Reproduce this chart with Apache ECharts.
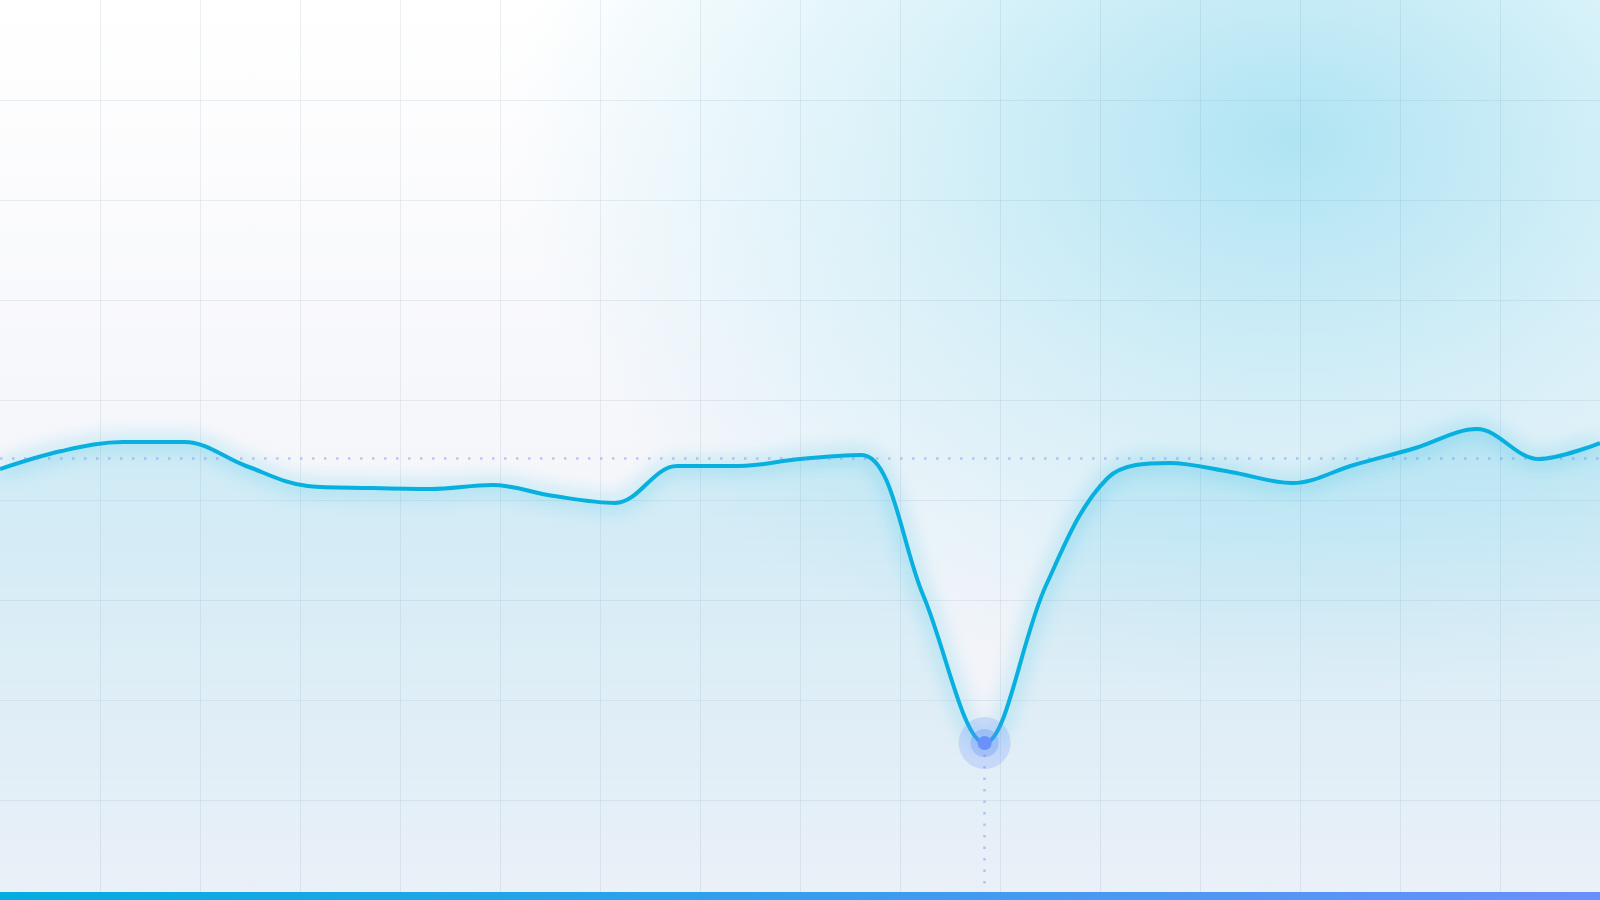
<!DOCTYPE html>
<html>
<head>
<meta charset="utf-8">
<title>trend</title>
<script src="https://cdn.jsdelivr.net/npm/echarts@6/dist/echarts.min.js"></script>
<style>
  html, body { margin: 0; padding: 0; }
  #main {
    width: 1600px;
    height: 900px;
    background:
      radial-gradient(ellipse 780px 560px at 1290px 140px,
        rgba(176, 228, 243, 1) 0%,
        rgba(176, 228, 243, 0.45) 50%,
        rgba(176, 228, 243, 0) 100%),
      linear-gradient(180deg, #ffffff 0%, #f6f7fb 45%, #eef1f8 100%);
  }
</style>
</head>
<body>
<div id="main"></div>
<script>
// data
var categories = ["1", "2", "3", "4", "5", "6", "7", "8", "9", "10", "11", "12", "13", "14",
  "15", "16", "17", "18", "19", "20", "21", "22", "23", "24", "25", "26", "27"];
var values = [43.1, 44.9, 45.8, 45.8, 43.4, 41.4, 41.2, 41.1, 41.5, 40.4, 39.7, 43.4, 43.4, 44.1,
  44.5, 30.5, 15.7, 31.5, 42.2, 43.7, 42.8, 41.7, 43.5, 45.2, 47.1, 44.1, 45.7];
var baseline = 44.2;
var yMin = 0;
var yMax = 90;

(function () {
  var myChart = echarts.init(document.getElementById("main"));

  // lowest point, for the drop line
  var minIndex = 0;
  for (var i = 1; i < values.length; i++) {
    if (values[i] < values[minIndex]) minIndex = i;
  }

  var gridColor = "rgba(60,90,120,0.09)";
  var dotColor = "rgba(110,140,245,0.45)";

  var option = {
    backgroundColor: "transparent",
    animation: false,
    grid: { left: 0, right: 0, top: 0, bottom: 0 },
    xAxis: [
      {
        type: "category",
        data: categories,
        boundaryGap: false,
        axisLine: { show: false },
        axisTick: { show: false },
        axisLabel: { show: false },
        splitLine: { show: false },
      },
      {
        // background grid columns
        type: "value",
        min: 0,
        max: 16,
        interval: 1,
        axisLine: { show: false },
        axisTick: { show: false },
        axisLabel: { show: false },
        splitLine: {
          show: true,
          showMinLine: false,
          showMaxLine: false,
          lineStyle: { color: gridColor, width: 1 },
        },
      },
    ],
    yAxis: {
      type: "value",
      min: yMin,
      max: yMax,
      interval: 10,
      axisLine: { show: false },
      axisTick: { show: false },
      axisLabel: { show: false },
      splitLine: {
        show: true,
        showMinLine: false,
        showMaxLine: false,
        lineStyle: { color: gridColor, width: 1 },
      },
    },
    series: [
      {
        type: "line",
        xAxisIndex: 0,
        data: values,
        smooth: 0.35,
        symbol: "none",
        lineStyle: {
          color: "#07b0de",
          width: 4,
          shadowColor: "rgba(7,176,222,0.75)",
          shadowBlur: 20,
        },
        areaStyle: {
          color: new echarts.graphic.LinearGradient(0, 0, 0, 1, [
            { offset: 0, color: "rgba(12,176,222,0.24)" },
            { offset: 1, color: "rgba(12,176,222,0.02)" },
          ]),
        },
        markLine: {
          silent: true,
          symbol: "none",
          label: { show: false },
          data: [
            {
              yAxis: baseline,
              lineStyle: { color: dotColor, width: 2.5, type: [2.5, 9.5] },
            },
            [
              { coord: [minIndex, values[minIndex]] },
              { coord: [minIndex, yMin] },
            ],
          ],
          lineStyle: { color: dotColor, width: 2.5, type: [2.5, 9] },
        },
        markPoint: {
          silent: true,
          symbol: "circle",
          label: { show: false },
          data: [
            { type: "min", symbolSize: 52, itemStyle: { color: "rgba(100,140,250,0.22)" } },
            { type: "min", symbolSize: 28, itemStyle: { color: "rgba(100,140,250,0.3)" } },
            { type: "min", symbolSize: 14, itemStyle: { color: "#6a90fa" } },
          ],
        },
      },
    ],
    graphic: [
      {
        type: "rect",
        left: 0,
        bottom: 0,
        shape: { width: 1600, height: 8 },
        style: {
          fill: new echarts.graphic.LinearGradient(0, 0, 1, 0, [
            { offset: 0, color: "#02ade0" },
            { offset: 1, color: "#6a8ffc" },
          ]),
        },
        z: 100,
      },
    ],
  };

  myChart.setOption(option);
  window.addEventListener("resize", function () {
    myChart.resize();
  });
})();
</script>
</body>
</html>
